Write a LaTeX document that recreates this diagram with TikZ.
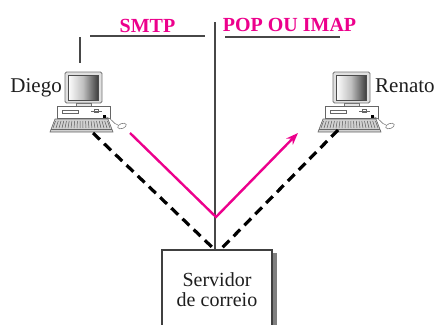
\documentclass[tikz,border=0pt]{standalone}
\usepackage{fontspec}
\setmainfont{Liberation Serif}
\usetikzlibrary{arrows.meta,calc}
\definecolor{proto}{RGB}{236,0,140}
\definecolor{txt}{RGB}{30,30,30}
\tikzset{
  lbl/.style={inner sep=0pt, text=txt, font=\fontsize{21}{21}\selectfont},
  protolbl/.style={inner sep=0pt, text=proto, font=\fontsize{20}{20}\selectfont\bfseries},
  rule/.style={draw=black!72, line width=1.4pt},
  dashline/.style={draw=black, line width=3.2pt, dash pattern=on 9.5pt off 6pt},
  pinkline/.style={draw=proto, line width=2.4pt},
  server/.style={draw=black!75, line width=1.3pt, fill=white, minimum width=110pt, minimum height=80pt,
    align=center, inner sep=0pt, text=txt, font=\fontsize{20}{20}\selectfont},
  pics/computer/.style={code={
    % monitor
    \draw[draw=black!55, fill=black!12, rounded corners=1.5pt, line width=0.9pt] (0,0) rectangle (37,31);
    \shade[left color=white, right color=black!75, middle color=black!25] (3,3) rectangle (33,28);
    \draw[black!70, line width=0.6pt] (3,3) rectangle (33,28);
    % stand
    \draw[black!55, fill=black!10, line width=0.6pt] (11,31) rectangle (26,34);
    % base unit
    \draw[black!60, fill=white, line width=0.8pt] (-8,34) rectangle (45,46);
    \draw[black!60, line width=0.6pt] (-3,38) rectangle (13,41);
    \draw[black!60, line width=0.9pt] (26,39) -- (37,39);
    \draw[black!60, line width=0.6pt] (29,37.5) rectangle (33,40.5);
    \fill[black] (38,43) rectangle (41,46);
    % keyboard
    \draw[black!60, fill=black!18, line width=0.6pt] (-10,47) -- (43,47) -- (48,60) -- (-15,60) -- cycle;
    \foreach \i in {0,...,19}{
      \draw[black!65, line width=0.5pt] ({-10.8+(\i+0.5)*54.6/20},49) -- ({-13.5+(\i+0.5)*60/20},56);
    }
    \draw[black!60, line width=0.5pt] (-13.8,57) -- (46.8,57);
    % mouse
    \draw[black!50, line width=0.6pt] (41,45) .. controls (47,46) and (48,52) .. (53,53);
    \draw[black!50, fill=white, line width=0.6pt, rotate around={20:(57,54)}] (57,54) ellipse [x radius=4.5, y radius=2.5];
  }}
}
\begin{document}
\begin{tikzpicture}[x=1pt,y=-1pt]
\useasboundingbox (0,0) rectangle (438,324);
% computers
\pic (dcomp) at (65,72) {computer};
\pic (rcomp) at (333,72) {computer};
% labels
\node[lbl, anchor=base east] (diego) at (62,92) {Diego};
\node[lbl, anchor=base west] (renato) at (375,92) {Renato};
\node[protolbl, anchor=base] (smtp) at (147.5,32) {SMTP};
\node[protolbl, anchor=base] (pop) at (289.5,31.5) {POP OU IMAP};
% server box with shadow
\node[server] (srv) at (217,290) {Servidor\\de correio};
\fill[black!50] ($(srv.north east)+(0.7,4)$) rectangle ($(srv.south east)+(4.2,0)$);
% rules
\coordinate (ctop) at (215,22);
\draw[rule] (ctop) -- (ctop |- srv.north);
\coordinate (dl1) at (80,37);
\coordinate (dl2) at (80,63);
\draw[rule] (dl1) -- (dl2);
\coordinate (sl1) at (90,36);
\coordinate (sl2) at (205,36);
\draw[rule] (sl1) -- (sl2);
\coordinate (pl1) at (225,37);
\coordinate (pl2) at (340,37);
\draw[rule] (pl1) -- (pl2);
% dashed connections
\coordinate (dkb) at (93,133);
\coordinate (rkb) at (338,130);
\coordinate (srvl) at (214,249);
\coordinate (srvr) at (221,249);
\draw[dashline] (dkb) -- (srvl);
\draw[dashline] (rkb) -- (srvr);
% pink message path
\coordinate (ps) at (130,133);
\coordinate (pv) at (216,217);
\coordinate (pt) at (298,133);
\draw[pinkline, -{Stealth[length=12pt,width=9pt]}] (ps) -- (pv) -- (pt);
\end{tikzpicture}
\end{document}
